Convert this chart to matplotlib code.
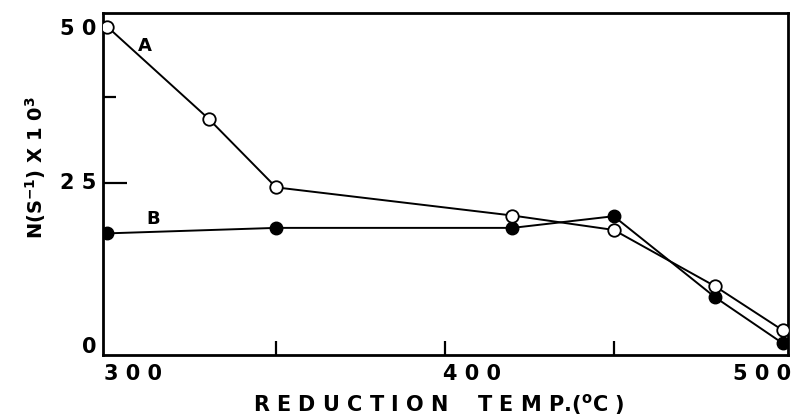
import matplotlib
matplotlib.use("Agg")
import matplotlib.pyplot as plt
import matplotlib.transforms as mtransforms

# catalyst series A (open circles) and B (filled circles)
temp_a = [300, 330, 350, 420, 450, 480, 500]
rate_a = [47.8, 34.4, 24.4, 20.3, 18.2, 10.0, 3.6]
temp_b = [300, 350, 420, 450, 480, 500]
rate_b = [17.7, 18.5, 18.5, 20.2, 8.4, 1.7]

x_labels = ["3 0 0", "4 0 0", "5 0 0"]
x_label_pos = [307.5, 408, 494]
y_labels = ["0", "2 5", "5 0"]
y_label_pos = [1.2, 25, 47.5]

plt.rcParams['font.family'] = ['DejaVu Sans']
plt.rcParams['font.weight'] = 'bold'
plt.rcParams['mathtext.default'] = 'bf'

fig = plt.figure(figsize=(7.94, 4.19), dpi=100)
ax = fig.add_axes([0.130, 0.153, 0.862, 0.816])

ax.plot(temp_a, rate_a, color='black', lw=1.4, marker='o', ms=9,
        mfc='white', mec='black', mew=1.3, zorder=3)
ax.plot(temp_b, rate_b, color='black', lw=1.4, marker='o', ms=9,
        mfc='black', mec='black', zorder=2)

ax.set_xlim(298.8, 501.5)
ax.set_ylim(0, 49.8)

for sp in ax.spines.values():
    sp.set_linewidth(2.0)

# inward ticks only, labels drawn by hand
ax.set_xticks([350, 400, 450])
ax.set_yticks([25])
ax.set_yticks([37.5], minor=True)
ax.tick_params(axis='x', direction='in', length=10, width=1.6, labelbottom=False)
ax.tick_params(axis='y', which='major', direction='in', length=17, width=1.6, labelleft=False)
ax.tick_params(axis='y', which='minor', direction='in', length=9, width=1.6, labelleft=False)

xt = mtransforms.blended_transform_factory(ax.transData, ax.transAxes)
for pos, lab in zip(x_label_pos, x_labels):
    ax.text(pos, -0.028, lab, transform=xt, ha='center', va='top',
            fontsize=15, fontweight='bold')

yt = mtransforms.blended_transform_factory(ax.transAxes, ax.transData)
for pos, lab in zip(y_label_pos, y_labels):
    ax.text(-0.01, pos, lab, transform=yt, ha='right', va='center',
            fontsize=15, fontweight='bold')

ax.text(309, 44.3, "A", fontsize=13, fontweight='bold')
ax.text(311.5, 19.0, "B", fontsize=13, fontweight='bold')

xlabel = " ".join("REDUCTION") + "    " + " ".join("TEMP") + ".($^{o}$C )"
fig.text(0.552, 0.035, xlabel, ha='center', va='center',
         fontsize=15, fontweight='bold')
fig.text(0.045, 0.6, "N(S$^{-1}$) X 1 0$^{3}$", rotation=90, ha='center', va='center',
         fontsize=14, fontweight='bold')

fig.savefig("out.png", dpi=100)
